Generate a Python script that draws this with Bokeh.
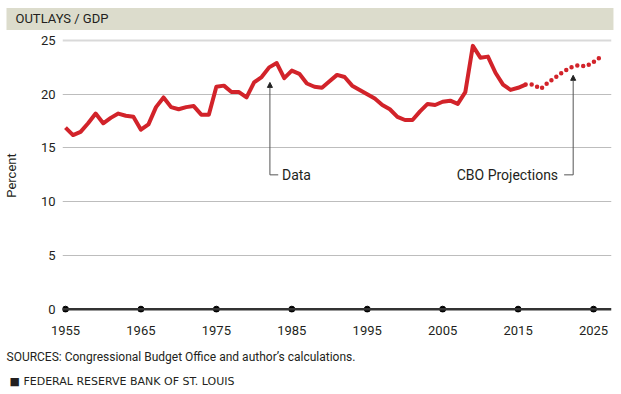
from bokeh.plotting import figure
from bokeh.models import Range1d, FixedTicker, Label, Arrow, NormalHead, Span, Title
from bokeh.embed import file_html
from bokeh.resources import INLINE

# ---- data ----
years = list(range(1955, 2017))
outlays = [16.9, 16.2, 16.5, 17.3, 18.2, 17.3, 17.8, 18.2, 18.0, 17.9,
           16.7, 17.2, 18.8, 19.7, 18.8, 18.6, 18.8, 18.9, 18.1, 18.1,
           20.7, 20.8, 20.2, 20.2, 19.7, 21.1, 21.6, 22.5, 22.9, 21.5,
           22.2, 21.9, 21.0, 20.7, 20.6, 21.2, 21.8, 21.6, 20.8, 20.4,
           20.0, 19.6, 19.0, 18.6, 17.9, 17.6, 17.6, 18.4, 19.1, 19.0,
           19.3, 19.4, 19.1, 20.2, 24.5, 23.4, 23.5, 22.0, 20.9, 20.4,
           20.6, 20.9]
proj_years = list(range(2016, 2027))
projections = [20.9, 20.9, 20.5, 21.1, 21.6, 22.1, 22.5, 22.7, 22.6, 23.0, 23.5]
x_ticks = [1955, 1965, 1975, 1985, 1995, 2005, 2015, 2025]
y_ticks = [0, 5, 10, 15, 20, 25]
grid_ticks = [5, 10, 15, 20]

title_text = "OUTLAYS / GDP"
y_label = "Percent"
data_label = "Data"
proj_label = "CBO Projections"
sources = "SOURCES: Congressional Budget Office and author\u2019s calculations."
footer = "\u25a0  FEDERAL RESERVE BANK OF ST. LOUIS"

FONT = "Roboto"
RED = "#d2232a"
TXT = "#231f20"

p = figure(width=621, height=394, output_backend="svg", toolbar_location=None,
           x_range=Range1d(1954.604, 2027.38), y_range=Range1d(-0.307, 25.186),
           min_border_left=60, min_border_right=10, min_border_top=38,
           min_border_bottom=82)
p.outline_line_color = None
p.background_fill_color = "white"
p.border_fill_color = "white"

xax = p.below[0]
yax = p.left[0]

# title bar
p.add_layout(Title(text=title_text, align="left", offset=-56, standoff=13,
                   vertical_align="top",
                   text_font=FONT, text_font_size="13px", text_font_style="normal",
                   text_color=TXT, background_fill_color="#dcdccc",
                   padding=dict(left=9, right=505, top=3, bottom=4)), "above")

p.xgrid.visible = False
p.ygrid.ticker = FixedTicker(ticks=grid_ticks)
p.ygrid.grid_line_color = "#bdbdbd"
p.ygrid.grid_line_width = 1

for ax in (xax, yax):
    ax.axis_line_color = None
    ax.major_tick_line_color = None
    ax.minor_tick_line_color = None
    ax.major_tick_out = 0
    ax.major_tick_in = 0
    ax.minor_tick_out = 0
    ax.minor_tick_in = 0
    ax.major_label_text_font = FONT
    ax.major_label_text_font_size = "13px"
    ax.major_label_text_color = TXT
xax.ticker = FixedTicker(ticks=x_ticks)
yax.ticker = FixedTicker(ticks=y_ticks)
xax.major_label_standoff = 13
yax.major_label_standoff = 7
yax.axis_label = y_label
yax.axis_label_standoff = 19
yax.axis_label_text_font = FONT
yax.axis_label_text_font_size = "13px"
yax.axis_label_text_font_style = "normal"
yax.axis_label_text_color = TXT

# footer texts
p.add_layout(Title(text=sources, align="left", offset=-56, standoff=21,
                   text_font=FONT, text_font_size="12px", text_font_style="normal",
                   text_color=TXT), "below")
p.add_layout(Title(text=footer, align="left", offset=-53, standoff=0,
                   vertical_align="top",
                   text_font="DejaVu Sans", text_font_size="11px",
                   text_font_style="normal", text_color=TXT), "below")

p.add_layout(Span(location=y_ticks[-1], dimension="width", line_color="#d9d9d9", line_width=2))
p.add_layout(Span(location=0, dimension="width", line_color="#333333", line_width=2.5))
p.scatter(x_ticks, [0] * len(x_ticks), size=6, color="black")

p.line(years, outlays, line_color=RED, line_width=4, line_join="round")
p.line(proj_years, projections, line_color=RED, line_width=4.5, line_dash="0 6",
       line_cap="round")

# annotations
ann_color = "#555555"
conn_y = 12.5
data_x, data_tip = 1982.1, 21.1
proj_x, proj_tip = 2022.3, 21.76
p.add_layout(Arrow(x_start=data_x, y_start=conn_y, x_end=data_x, y_end=data_tip,
                   line_color=ann_color, line_width=1,
                   end=NormalHead(size=5, fill_color="#222", line_color="#222")))
p.add_layout(Arrow(x_start=data_x, y_start=conn_y, x_end=data_x + 1.1, y_end=conn_y,
                   line_color=ann_color, line_width=1, end=None))
p.add_layout(Label(x=data_x + 1.6, y=conn_y, text=data_label, text_font=FONT,
                   text_font_size="14px", text_baseline="middle", text_color=TXT))
p.add_layout(Arrow(x_start=proj_x, y_start=conn_y, x_end=proj_x, y_end=proj_tip,
                   line_color=ann_color, line_width=1,
                   end=NormalHead(size=5, fill_color="#222", line_color="#222")))
p.add_layout(Arrow(x_start=proj_x, y_start=conn_y, x_end=proj_x - 1.2, y_end=conn_y,
                   line_color=ann_color, line_width=1, end=None))
p.add_layout(Label(x=proj_x - 2.0, y=conn_y, text=proj_label, text_font=FONT,
                   text_font_size="14px", text_baseline="middle", text_align="right",
                   text_color=TXT))

open("out.html", "w").write(file_html(p, INLINE))
